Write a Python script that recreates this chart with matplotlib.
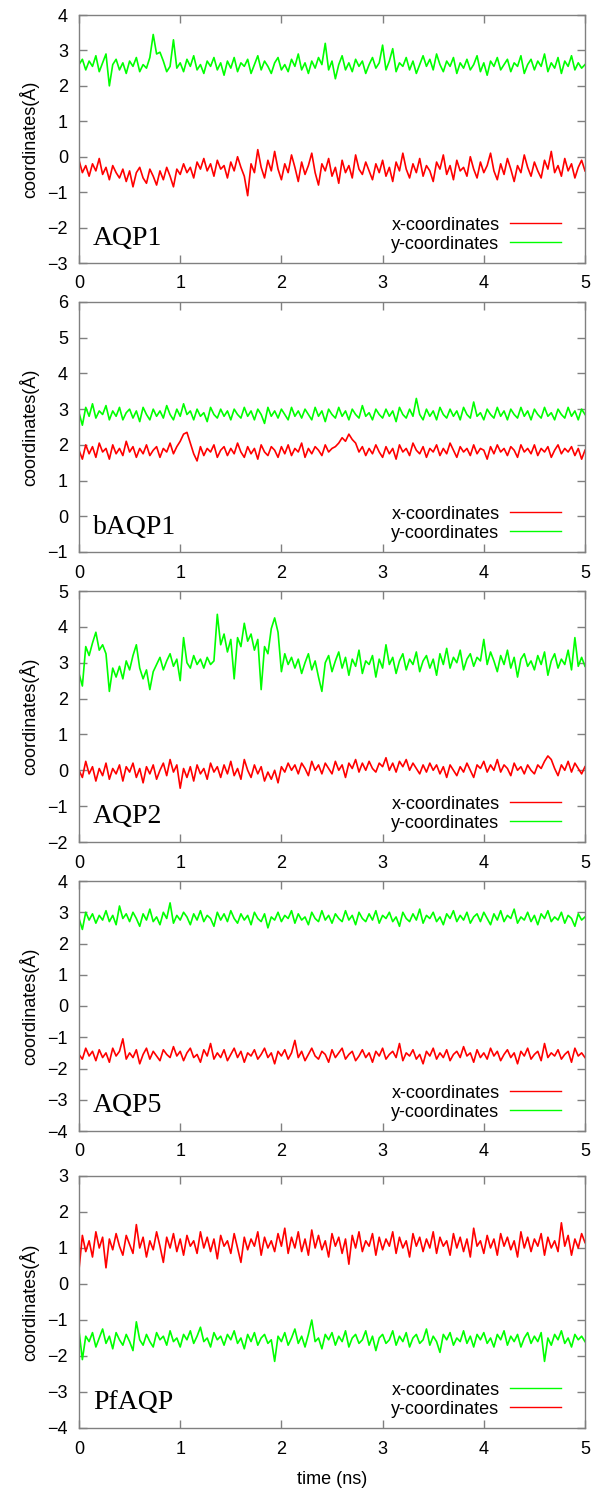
import numpy as np
import matplotlib
matplotlib.use("Agg")
import matplotlib.pyplot as plt

# ---------------- data ----------------
time_ns = np.linspace(0, 5, 151)
x_ticks = [0, 1, 2, 3, 4, 5]
panel_names = ["AQP1", "bAQP1", "AQP2", "AQP5", "PfAQP"]
ylims = [(-3, 4), (-1, 6), (-2, 5), (-4, 4), (-4, 3)]
legend_labels = ["x-coordinates", "y-coordinates"]

aqp1_x = [-0.10, -0.45, -0.25, -0.55, -0.20, -0.40, -0.05, -0.50, -0.30, -0.65, -0.25, -0.45, -0.60, -0.35, -0.70,
          -0.40, -0.85, -0.45, -0.30, -0.60, -0.75, -0.35, -0.55, -0.80, -0.40, -0.65, -0.30, -0.55, -0.85, -0.35,
          -0.50, -0.20, -0.45, -0.30, -0.60, -0.15, -0.35, -0.05, -0.40, -0.20, -0.55, -0.10, -0.35, -0.25, -0.60,
          -0.15, -0.40, 0.00, -0.30, -0.55, -1.10, -0.20, -0.45, 0.20, -0.30, -0.60, -0.10, -0.40, 0.15, -0.35,
          -0.65, -0.20, -0.45, 0.05, -0.30, -0.70, -0.15, -0.50, -0.25, 0.10, -0.45, -0.80, -0.20, -0.40, -0.05,
          -0.55, -0.30, -0.75, -0.10, -0.45, -0.25, -0.60, 0.05, -0.35, -0.50, -0.15, -0.40, -0.65, -0.20, -0.45,
          -0.10, -0.55, -0.30, -0.70, -0.15, -0.40, 0.10, -0.35, -0.60, -0.20, -0.45, -0.05, -0.55, -0.25, -0.40,
          -0.70, -0.15, -0.35, 0.05, -0.50, -0.25, -0.65, -0.10, -0.40, -0.30, -0.55, 0.00, -0.35, -0.60, -0.15,
          -0.45, -0.25, 0.10, -0.40, -0.65, -0.20, -0.50, -0.05, -0.35, -0.70, -0.25, -0.45, 0.05, -0.30, -0.55,
          -0.15, -0.40, -0.60, -0.10, -0.35, 0.15, -0.45, -0.25, -0.55, -0.05, -0.40, -0.20, -0.60, -0.30, -0.10,
          -0.40]
aqp1_y = [2.60, 2.75, 2.45, 2.70, 2.55, 2.85, 2.40, 2.65, 2.90, 2.00, 2.60, 2.75, 2.45, 2.65, 2.35,
          2.70, 2.55, 2.80, 2.40, 2.60, 2.50, 2.80, 3.45, 2.90, 2.95, 2.70, 2.40, 2.55, 3.30, 2.50,
          2.65, 2.40, 2.75, 2.55, 2.85, 2.45, 2.60, 2.35, 2.70, 2.55, 2.80, 2.45, 2.65, 2.30, 2.70,
          2.50, 2.80, 2.40, 2.65, 2.55, 2.75, 2.35, 2.60, 2.85, 2.45, 2.70, 2.55, 2.35, 2.65, 2.80,
          2.45, 2.60, 2.40, 2.75, 2.55, 2.90, 2.45, 2.65, 2.35, 2.70, 2.50, 2.80, 2.60, 3.20, 2.45,
          2.70, 2.20, 2.60, 2.85, 2.45, 2.65, 2.40, 2.75, 2.55, 2.70, 2.35, 2.60, 2.80, 2.50, 2.65,
          3.15, 2.45, 2.70, 3.05, 2.40, 2.65, 2.55, 2.80, 2.45, 2.70, 2.35, 2.60, 2.85, 2.55, 2.75,
          2.45, 2.90, 2.60, 2.40, 2.70, 2.55, 2.80, 2.35, 2.65, 2.50, 2.75, 2.45, 2.60, 2.85, 2.40,
          2.65, 2.30, 2.70, 2.55, 2.80, 2.45, 2.60, 2.75, 2.40, 2.65, 2.55, 2.85, 2.35, 2.60, 2.75,
          2.45, 2.70, 2.55, 2.90, 2.40, 2.65, 2.50, 2.80, 2.35, 2.70, 2.55, 2.85, 2.45, 2.65, 2.50,
          2.60]

baqp1_x = [1.85, 1.60, 2.00, 1.75, 1.95, 1.65, 2.05, 1.80, 1.90, 1.60, 2.00, 1.75, 1.90, 1.70, 2.10,
           1.80, 1.95, 1.65, 1.90, 1.75, 2.00, 1.70, 1.85, 1.95, 1.65, 1.90, 1.80, 2.05, 1.75, 1.95,
           2.10, 2.30, 2.35, 2.05, 1.75, 1.55, 1.95, 1.70, 1.90, 1.80, 2.00, 1.65, 1.85, 1.95, 1.70,
           1.90, 1.75, 2.05, 1.80, 1.65, 1.95, 1.75, 1.90, 1.60, 2.00, 1.80, 1.70, 1.95, 1.85, 1.65,
           1.95, 1.75, 2.00, 1.70, 1.90, 1.80, 2.05, 1.65, 1.90, 1.75, 1.95, 1.85, 1.70, 2.00, 1.80,
           1.90, 1.95, 2.05, 2.20, 2.10, 2.30, 2.15, 2.05, 1.80, 1.95, 1.70, 1.90, 1.75, 2.00, 1.80,
           1.65, 1.95, 1.75, 1.90, 1.60, 2.00, 1.80, 1.90, 1.70, 2.05, 1.85, 1.75, 1.95, 1.65, 1.90,
           1.80, 2.00, 1.70, 1.90, 1.75, 2.05, 1.85, 1.65, 1.95, 1.80, 1.90, 1.70, 2.00, 1.75, 1.90,
           1.85, 1.60, 1.95, 1.75, 2.00, 1.80, 1.90, 1.70, 1.95, 1.85, 1.65, 2.00, 1.80, 1.90, 1.75,
           2.00, 1.70, 1.90, 1.80, 1.95, 1.65, 1.85, 2.00, 1.75, 1.90, 1.80, 1.95, 1.70, 1.90, 1.60,
           1.85]
baqp1_y = [2.90, 2.55, 3.05, 2.80, 3.15, 2.75, 2.95, 2.85, 3.10, 2.70, 2.95, 2.80, 3.05, 2.70, 2.90,
           3.00, 2.75, 2.95, 2.65, 3.05, 2.85, 2.70, 3.00, 2.80, 2.95, 2.75, 3.10, 2.85, 2.70, 3.00,
           2.80, 3.15, 2.85, 2.95, 2.70, 3.00, 2.80, 2.90, 2.65, 3.05, 2.85, 2.75, 3.00, 2.80, 2.95,
           2.70, 3.00, 2.85, 2.75, 3.05, 2.80, 2.95, 2.70, 3.00, 2.85, 2.60, 3.05, 2.80, 2.95, 2.75,
           3.00, 2.85, 2.70, 3.05, 2.80, 2.95, 2.75, 3.00, 2.85, 2.70, 3.05, 2.80, 2.95, 2.65, 3.00,
           2.85, 2.75, 3.05, 2.80, 2.95, 2.70, 3.00, 2.85, 2.75, 3.10, 2.80, 2.90, 2.70, 3.00, 2.85,
           2.75, 3.00, 2.80, 2.95, 2.65, 3.05, 2.85, 2.75, 3.00, 2.80, 3.30, 2.85, 2.70, 3.00, 2.80,
           2.95, 2.70, 3.05, 2.85, 2.75, 3.00, 2.80, 2.95, 2.70, 3.05, 2.85, 2.75, 3.20, 2.80, 2.90,
           2.70, 3.00, 2.85, 2.75, 3.05, 2.80, 2.95, 2.70, 3.00, 2.85, 2.75, 3.05, 2.80, 2.95, 2.70,
           3.00, 2.85, 2.75, 3.05, 2.80, 2.90, 2.70, 3.00, 2.85, 2.75, 3.05, 2.80, 2.95, 2.70, 3.00,
           2.85]

aqp2_x = [0.00, -0.20, 0.25, -0.10, 0.10, -0.30, 0.05, -0.15, 0.20, -0.25, 0.05, -0.10, 0.15, -0.30, 0.10,
          -0.05, 0.20, -0.20, 0.05, -0.35, 0.10, -0.10, 0.15, -0.25, 0.00, 0.20, -0.15, 0.30, -0.05, 0.15,
          -0.50, 0.05, -0.20, 0.10, -0.30, 0.15, -0.10, 0.05, -0.25, 0.20, -0.05, 0.10, -0.20, 0.15, -0.10,
          0.25, -0.15, 0.05, -0.25, 0.30, 0.00, -0.20, 0.15, -0.10, 0.10, -0.30, -0.05, -0.25, 0.00, -0.35,
          0.10, -0.05, 0.20, 0.00, 0.15, -0.10, 0.20, 0.05, -0.15, 0.25, 0.00, 0.15, -0.10, 0.20, 0.05,
          -0.10, 0.25, 0.00, 0.15, -0.20, 0.20, 0.05, 0.30, -0.05, 0.20, 0.00, 0.25, 0.05, -0.05, 0.20,
          0.10, 0.35, 0.00, 0.20, -0.05, 0.25, 0.10, 0.30, 0.00, 0.20, 0.05, -0.10, 0.15, -0.05, 0.20,
          0.00, 0.15, -0.10, 0.10, -0.20, 0.15, 0.00, -0.15, 0.10, -0.05, 0.20, 0.00, -0.20, 0.15, 0.05,
          0.25, -0.05, 0.15, 0.00, 0.30, -0.05, 0.15, 0.05, -0.15, 0.20, 0.00, 0.10, -0.10, 0.15, 0.00,
          -0.10, 0.15, 0.05, 0.25, 0.40, 0.30, 0.05, -0.15, 0.15, 0.00, 0.25, -0.05, 0.20, 0.05, -0.10,
          0.10]
aqp2_y = [2.70, 2.35, 3.45, 3.20, 3.55, 3.85, 3.35, 3.50, 3.25, 2.20, 2.85, 2.60, 2.90, 2.55, 3.05,
          2.80, 3.20, 3.50, 2.85, 2.55, 2.80, 2.25, 2.75, 2.95, 3.15, 2.80, 3.05, 3.25, 2.90, 3.10,
          2.50, 3.70, 3.00, 2.85, 3.20, 2.95, 3.10, 2.85, 3.15, 2.95, 3.05, 4.35, 3.50, 3.80, 3.30,
          3.65, 2.55, 3.70, 3.45, 4.10, 3.60, 3.80, 3.35, 3.65, 2.25, 3.45, 3.25, 3.95, 4.25, 3.85,
          2.75, 3.25, 2.95, 3.15, 2.85, 3.10, 2.70, 3.00, 3.25, 2.80, 3.05, 2.60, 2.20, 3.00, 3.20,
          2.75, 3.05, 3.30, 2.85, 3.15, 2.65, 3.10, 2.90, 3.35, 2.70, 3.05, 2.95, 3.20, 2.60, 3.10,
          2.85, 3.50, 2.95, 3.15, 2.70, 3.05, 3.25, 2.80, 3.10, 2.95, 3.30, 2.75, 3.05, 3.20, 2.85,
          3.10, 2.65, 3.25, 2.95, 3.40, 2.85, 3.15, 3.00, 3.35, 2.80, 3.10, 3.25, 2.90, 3.15, 3.05,
          3.65, 2.95, 3.30, 3.05, 2.75, 3.20, 2.95, 3.35, 2.85, 3.15, 2.60, 3.10, 3.25, 2.90, 3.05,
          2.80, 3.20, 2.95, 3.30, 2.65, 3.05, 3.25, 2.85, 3.10, 2.95, 3.35, 2.80, 3.70, 2.90, 3.15,
          2.90]

aqp5_x = [-1.55, -1.70, -1.35, -1.60, -1.45, -1.75, -1.40, -1.65, -1.50, -1.80, -1.35, -1.60, -1.45, -1.05, -1.70,
          -1.50, -1.65, -1.40, -1.85, -1.55, -1.35, -1.70, -1.45, -1.60, -1.75, -1.40, -1.55, -1.65, -1.30, -1.60,
          -1.45, -1.75, -1.50, -1.35, -1.65, -1.55, -1.80, -1.40, -1.60, -1.20, -1.70, -1.50, -1.65, -1.40, -1.75,
          -1.55, -1.35, -1.65, -1.45, -1.80, -1.50, -1.60, -1.40, -1.70, -1.55, -1.35, -1.65, -1.50, -1.85, -1.45,
          -1.60, -1.40, -1.70, -1.50, -1.10, -1.65, -1.45, -1.75, -1.55, -1.35, -1.60, -1.70, -1.45, -1.55, -1.80,
          -1.40, -1.65, -1.50, -1.35, -1.70, -1.55, -1.45, -1.75, -1.60, -1.40, -1.65, -1.50, -1.80, -1.45, -1.60,
          -1.35, -1.70, -1.55, -1.45, -1.65, -1.20, -1.75, -1.50, -1.60, -1.40, -1.70, -1.55, -1.85, -1.45, -1.60,
          -1.35, -1.70, -1.50, -1.65, -1.40, -1.75, -1.55, -1.45, -1.65, -1.30, -1.60, -1.50, -1.80, -1.40, -1.65,
          -1.50, -1.70, -1.35, -1.60, -1.45, -1.75, -1.55, -1.40, -1.65, -1.50, -1.85, -1.45, -1.60, -1.35, -1.70,
          -1.55, -1.45, -1.75, -1.20, -1.65, -1.50, -1.60, -1.40, -1.70, -1.55, -1.45, -1.80, -1.35, -1.60, -1.50,
          -1.65]
aqp5_y = [2.80, 2.45, 3.00, 2.75, 2.95, 2.65, 2.90, 2.75, 3.05, 2.70, 2.90, 2.60, 3.20, 2.80, 2.95,
          2.70, 3.00, 2.80, 2.55, 2.95, 2.75, 3.10, 2.70, 2.85, 2.60, 3.00, 2.80, 3.30, 2.65, 2.90,
          2.75, 3.00, 2.85, 2.60, 2.95, 2.75, 3.05, 2.70, 2.90, 2.80, 2.55, 3.00, 2.75, 2.95, 2.70,
          3.05, 2.80, 2.65, 2.95, 2.75, 2.90, 2.60, 3.00, 2.80, 2.70, 2.95, 2.50, 2.85, 2.75, 3.00,
          2.70, 2.90, 2.80, 3.05, 2.65, 2.95, 2.75, 2.85, 2.60, 3.00, 2.80, 2.70, 3.05, 2.75, 2.90,
          2.65, 2.95, 2.80, 2.70, 3.05, 2.75, 2.90, 2.60, 3.00, 2.80, 2.70, 2.95, 2.75, 3.05, 2.65,
          2.90, 2.80, 3.00, 2.70, 2.85, 2.55, 3.00, 2.80, 2.70, 2.95, 2.75, 3.10, 2.65, 2.90, 2.80,
          3.00, 2.70, 2.85, 2.60, 2.95, 2.80, 3.05, 2.70, 2.90, 2.75, 3.00, 2.65, 2.85, 2.95, 2.70,
          3.00, 2.80, 2.60, 2.95, 2.75, 3.05, 2.70, 2.90, 2.80, 3.10, 2.65, 2.85, 2.75, 3.00, 2.70,
          2.90, 2.60, 2.95, 2.80, 3.05, 2.70, 2.85, 2.75, 3.00, 2.65, 2.90, 2.80, 2.55, 2.95, 2.75,
          2.85]

pfaqp_x = [-1.30, -2.10, -1.45, -1.60, -1.35, -1.75, -1.50, -1.25, -1.65, -1.45, -1.80, -1.35, -1.55, -1.70, -1.40,
           -1.60, -1.85, -1.05, -1.55, -1.70, -1.40, -1.60, -1.75, -1.35, -1.55, -1.45, -1.70, -1.30, -1.60, -1.50,
           -1.75, -1.40, -1.55, -1.30, -1.65, -1.45, -1.20, -1.60, -1.50, -1.75, -1.35, -1.55, -1.45, -1.70, -1.40,
           -1.55, -1.30, -1.65, -1.50, -1.80, -1.40, -1.60, -1.35, -1.70, -1.50, -1.40, -1.65, -1.55, -2.15, -1.45,
           -1.60, -1.35, -1.70, -1.50, -1.25, -1.65, -1.45, -1.75, -1.40, -1.00, -1.60, -1.50, -1.80, -1.40, -1.55,
           -1.35, -1.70, -1.45, -1.60, -1.30, -1.75, -1.50, -1.40, -1.65, -1.55, -1.30, -1.70, -1.45, -1.85, -1.50,
           -1.40, -1.65, -1.55, -1.30, -1.70, -1.45, -1.60, -1.35, -1.75, -1.50, -1.40, -1.65, -1.55, -1.25, -1.70,
           -1.45, -1.60, -1.90, -1.40, -1.55, -1.35, -1.70, -1.50, -1.60, -1.30, -1.65, -1.45, -1.75, -1.40, -1.55,
           -1.35, -1.65, -1.50, -1.75, -1.40, -1.55, -1.30, -1.70, -1.45, -1.60, -1.40, -1.75, -1.50, -1.35, -1.65,
           -1.45, -1.60, -1.35, -2.15, -1.50, -1.70, -1.40, -1.55, -1.30, -1.65, -1.50, -1.75, -1.40, -1.55, -1.45,
           -1.60]
pfaqp_y = [0.40, 1.35, 0.90, 1.20, 0.75, 1.45, 1.00, 1.30, 0.45, 1.25, 0.95, 1.40, 1.05, 0.80, 1.35,
           1.10, 0.85, 1.65, 1.00, 1.30, 0.75, 1.20, 0.95, 1.45, 1.05, 0.60, 1.30, 1.00, 1.40, 0.90,
           1.25, 0.80, 1.35, 1.05, 1.20, 0.85, 1.45, 1.00, 1.30, 0.90, 1.25, 0.70, 1.35, 1.05, 1.20,
           0.85, 1.40, 1.00, 0.60, 1.30, 0.95, 1.25, 1.05, 1.45, 0.80, 1.30, 1.00, 1.20, 0.90, 1.40,
           1.05, 1.55, 0.85, 1.30, 1.00, 1.45, 0.90, 1.25, 0.80, 1.50, 1.00, 1.35, 0.95, 1.20, 0.75,
           1.40, 1.05, 1.30, 0.85, 1.25, 0.55, 1.35, 1.00, 1.45, 0.90, 1.20, 1.05, 1.40, 0.80, 1.30,
           0.95, 1.25, 1.05, 1.45, 0.85, 1.30, 1.00, 1.20, 0.75, 1.40, 1.05, 1.30, 0.90, 1.25, 1.00,
           1.45, 0.85, 1.30, 1.05, 1.20, 0.80, 1.40, 1.00, 1.30, 0.90, 1.25, 0.75, 1.55, 1.05, 1.20,
           0.85, 1.35, 1.00, 1.25, 0.80, 1.40, 1.05, 1.30, 0.95, 1.20, 0.75, 1.45, 1.00, 1.30, 0.90,
           1.25, 1.05, 1.40, 0.80, 1.30, 1.00, 1.20, 0.90, 1.70, 1.05, 1.35, 0.80, 1.25, 1.00, 1.40,
           1.15]

x_series = [aqp1_x, baqp1_x, aqp2_x, aqp5_x, pfaqp_x]
y_series = [aqp1_y, baqp1_y, aqp2_y, aqp5_y, pfaqp_y]
x_colors = ["#ff0000", "#ff0000", "#ff0000", "#ff0000", "#00ff00"]
y_colors = ["#00ff00", "#00ff00", "#00ff00", "#00ff00", "#ff0000"]

# ---------------- layout ----------------
W, H = 598, 1492
panel_px = [(15, 263), (302, 552), (591, 842), (881, 1131), (1176, 1428)]
left_px, right_px = 79, 585
spine_gray = "#808080"
sans = ["Liberation Sans", "DejaVu Sans"]
serif = ["Liberation Serif", "DejaVu Serif"]

plt.rcParams["font.family"] = sans
fig = plt.figure(figsize=(W / 100, H / 100), dpi=100)

for k in range(5):
    top, bot = panel_px[k]
    ax = fig.add_axes([left_px / W, 1 - bot / H, (right_px - left_px) / W, (bot - top) / H])
    ax.plot(time_ns, x_series[k], color=x_colors[k], lw=1.2, label=legend_labels[0])
    ax.plot(time_ns, y_series[k], color=y_colors[k], lw=1.2, label=legend_labels[1])
    ax.set_xlim(0, 5)
    ax.set_ylim(*ylims[k])
    ax.set_xticks(x_ticks)
    ax.set_yticks(np.arange(ylims[k][0], ylims[k][1] + 1))
    for s in ax.spines.values():
        s.set_color(spine_gray)
        s.set_linewidth(1.0)
    ax.tick_params(axis="both", direction="in", length=6, width=1.0, color=spine_gray,
                   labelsize=13, labelcolor="black", top=True, right=True)
    ax.tick_params(axis="y", pad=8)
    ax.tick_params(axis="x", pad=9)
    ax.set_ylabel("coordinates(Å)", fontsize=13, labelpad=6)
    ax.text(0.028, 0.1, panel_names[k], transform=ax.transAxes, fontsize=20,
            family=serif, va="center", ha="left")
    leg = ax.legend(loc="lower right", bbox_to_anchor=(0.963, 0.02), frameon=False,
                    markerfirst=False, fontsize=13, handlelength=2.8, handletextpad=0.6,
                    labelspacing=0.1, borderaxespad=0.0, borderpad=0.3)
    for line in leg.get_lines():
        line.set_linewidth(1.0)
    if k == 4:
        ax.set_xlabel("time (ns)", fontsize=13, labelpad=10)

fig.savefig("out.png", dpi=100)
